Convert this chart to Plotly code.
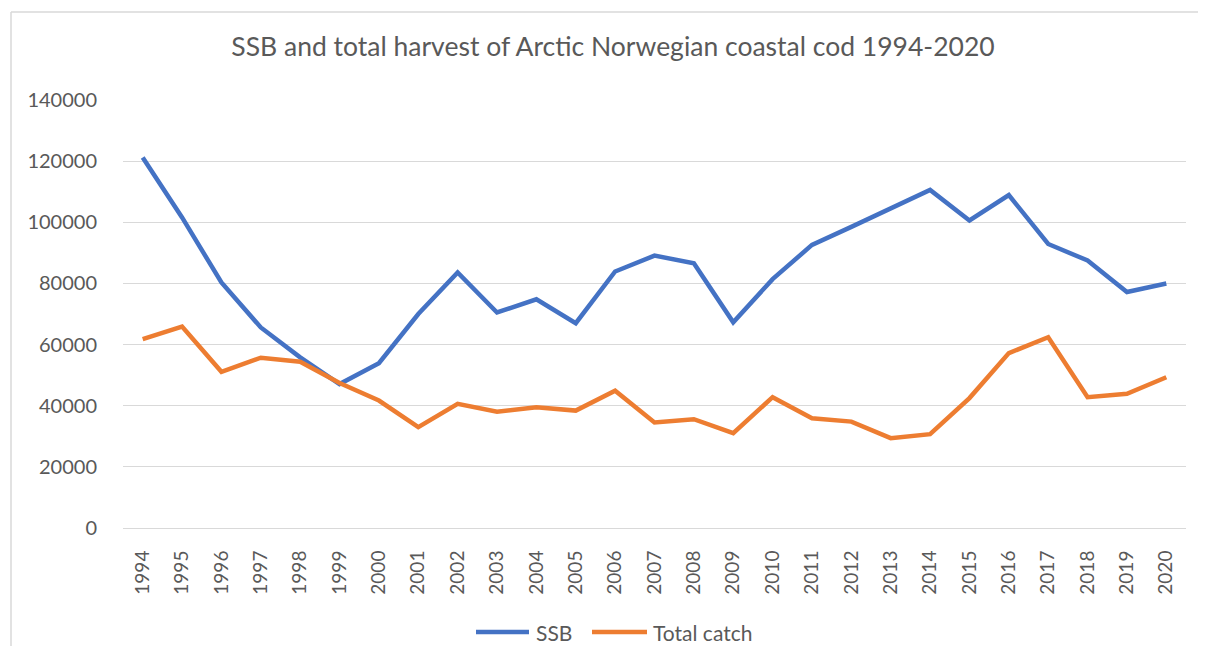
import plotly.graph_objects as go

years = [str(y) for y in range(1994, 2021)]
ssb = [121200, 101600, 80300, 65600, 55800, 47100, 53900, 70000, 83600, 70500,
       74800, 67000, 83900, 89100, 86600, 67300, 81400, 92600, 98500, 104600,
       110600, 100600, 108900, 92900, 87500, 77200, 80000]
total_catch = [61800, 65900, 51100, 55700, 54400, 47400, 41700, 33000, 40600, 38000,
               39500, 38400, 44900, 34500, 35600, 31000, 42800, 35900, 34800, 29400,
               30700, 42500, 57200, 62400, 42800, 43900, 49300]
series_names = ["SSB", "Total catch"]
series_colors = ["#4472C4", "#ED7D31"]

title_text = "SSB and total harvest of Arctic Norwegian coastal cod 1994-2020"
font_family = "Lato, 'Open Sans', sans-serif"
grey_text = "#595959"

fig = go.Figure()
for name, vals, col in zip(series_names, [ssb, total_catch], series_colors):
    fig.add_trace(go.Scatter(x=years, y=vals, mode="lines", name=name,
                             line=dict(color=col, width=4.5), showlegend=False))

# page has an 8px body margin; figure sized so it fits without scrollbars
OFF = 8
L, R, T, B = 115, 12, 92, 118
W, H = 1190, 638
pw = W - L - R
ph = H - T - B

def px_x(x):  # page pixel -> paper x
    return (x - OFF - L) / pw

def px_y(y):  # page pixel -> paper y
    return (H - B + OFF - y) / ph

fig.update_layout(
    width=W, height=H,
    margin=dict(l=L, r=R, t=T, b=B),
    paper_bgcolor="white", plot_bgcolor="white",
    font=dict(family=font_family, color=grey_text, size=18),
    title=dict(text=title_text, x=(613 - OFF) / W, xanchor="center", xref="container",
               y=1 - (47 - OFF) / H, yanchor="middle", yref="container",
               font=dict(size=26.5, color=grey_text, family=font_family)),
    showlegend=False,
    xaxis=dict(type="category", range=[-0.5, 26.5], tickangle=-90,
               showgrid=False, showline=False, zeroline=False,
               ticks="outside", ticklen=14, tickcolor="rgba(0,0,0,0)",
               tickfont=dict(size=19, color=grey_text)),
    yaxis=dict(range=[0, 140000], dtick=20000, tickformat="d",
               showgrid=True, gridcolor="#d9d9d9", gridwidth=1.3,
               zeroline=True, zerolinecolor="#d9d9d9", zerolinewidth=1.3,
               showline=False, ticks="outside", ticklen=21, tickcolor="rgba(0,0,0,0)",
               tickfont=dict(size=20, color=grey_text)),
)

# Outer chart border: only top and left edges are visible (rest is cropped)
border = dict(color="#d9d9d9", width=1.5)
fig.add_shape(type="line", xref="paper", yref="paper",
              x0=px_x(11), x1=px_x(1260), y0=px_y(12), y1=px_y(12), line=border, layer="below")
fig.add_shape(type="line", xref="paper", yref="paper",
              x0=px_x(11), x1=px_x(11), y0=px_y(12), y1=px_y(720), line=border, layer="below")

# Custom legend (Excel style: long line swatch followed by label)
legend_y = 632
legend_items = [(476, 529, 534), (592, 647, 651)]
for (x0, x1, tx), name, col in zip(legend_items, series_names, series_colors):
    fig.add_shape(type="line", xref="paper", yref="paper",
                  x0=px_x(x0), x1=px_x(x1), y0=px_y(legend_y), y1=px_y(legend_y),
                  line=dict(color=col, width=4.5))
    fig.add_annotation(text=name, xref="paper", yref="paper",
                       x=px_x(tx), y=px_y(legend_y), xanchor="left", yanchor="middle",
                       showarrow=False, font=dict(size=21, color=grey_text))

fig.write_html("out.html")
